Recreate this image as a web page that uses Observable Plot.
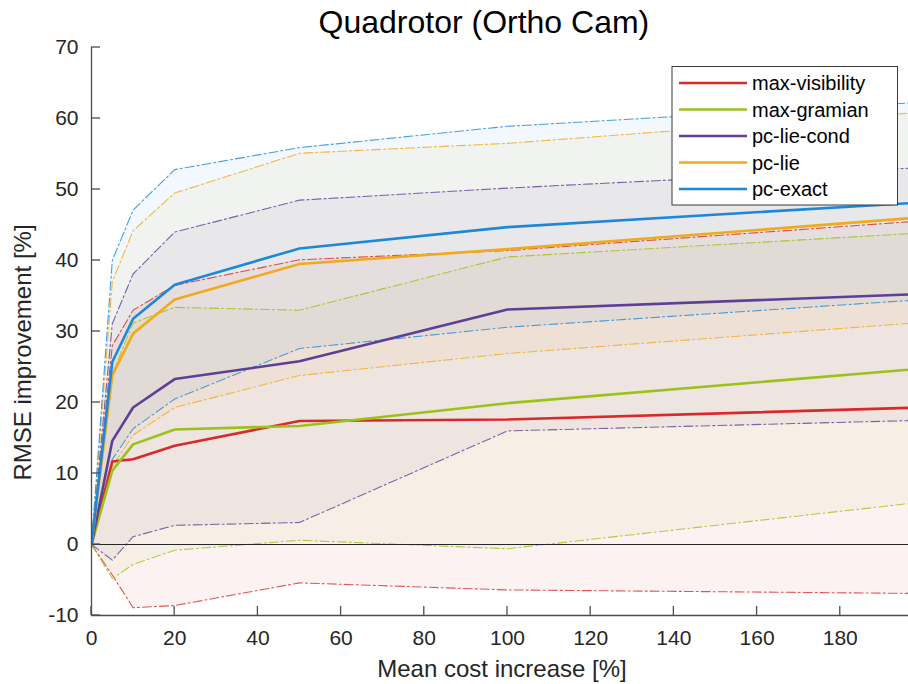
<!DOCTYPE html>
<html><head><meta charset="utf-8">
<script src="https://cdn.jsdelivr.net/npm/d3@7"></script>
<script src="https://cdn.jsdelivr.net/npm/@observablehq/plot@0.6"></script>
<style>body{margin:0;background:#fff}</style>
</head><body><div id="chart"></div>
<script>
const titleText = "Quadrotor (Ortho Cam)";
const xLabel = "Mean cost increase [%]";
const yLabel = "RMSE improvement [%]";
const costX = [0, 5, 10, 20, 50, 100, 200];
const seriesNames = ["max-visibility", "max-gramian", "pc-lie-cond", "pc-lie", "pc-exact"];
const seriesColors = ["#D92A2A", "#9BC21A", "#5E3F96", "#F0AA1C", "#1E88D8"];

const visMean = [0, 11.7, 12.0, 13.9, 17.4, 17.6, 19.3];
const visLo   = [0, -4.3, -8.9, -8.6, -5.4, -6.4, -6.9];
const visHi   = [0, 28.0, 33.0, 36.5, 40.1, 41.4, 45.6];

const gramMean = [0, 10.4, 14.1, 16.2, 16.7, 19.9, 24.8];
const gramLo   = [0, -4.8, -2.8, -0.8, 0.6, -0.6, 6.0];
const gramHi   = [0, 24.0, 31.2, 33.4, 33.0, 40.5, 43.9];

const condMean = [0, 14.6, 19.3, 23.3, 25.8, 33.1, 35.3];
const condLo   = [0, -2.2, 1.1, 2.7, 3.1, 16.0, 17.5];
const condHi   = [0, 31.1, 38.1, 44.0, 48.5, 50.2, 53.1];

const lieMean = [0, 23.8, 29.7, 34.5, 39.5, 41.6, 46.1];
const lieLo   = [0, 11.0, 15.4, 19.3, 23.8, 26.9, 31.3];
const lieHi   = [0, 37.0, 44.2, 49.5, 55.1, 56.5, 60.9];

const exactMean = [0, 25.7, 31.8, 36.6, 41.7, 44.7, 48.2];
const exactLo   = [0, 12.0, 16.3, 20.5, 27.6, 30.6, 34.5];
const exactHi   = [0, 40.0, 47.1, 52.8, 55.9, 58.9, 62.3];

const xTicks = [0, 20, 40, 60, 80, 100, 120, 140, 160, 180];
const yTicks = [-10, 0, 10, 20, 30, 40, 50, 60, 70];
const yTickLabels = ["-10", "0", "10", "20", "30", "40", "50", "60", "70"];

const seriesData = [
  [visMean, visLo, visHi],
  [gramMean, gramLo, gramHi],
  [condMean, condLo, condHi],
  [lieMean, lieLo, lieHi],
  [exactMean, exactLo, exactHi]
];
const rows = [];
seriesNames.forEach((name, s) => {
  const [m, lo, hi] = seriesData[s];
  costX.forEach((x, i) => rows.push({series: name, x, mean: m[i], lo: lo[i], hi: hi[i]}));
});

const font = "'Liberation Sans', Arial, Helvetica, sans-serif";
const dashes = "9,3,2,3";

const plot = Plot.plot({
  width: 908, height: 684,
  marginLeft: 91, marginRight: 0, marginTop: 47, marginBottom: 69,
  style: {fontFamily: font, background: "white", overflow: "visible"},
  x: {domain: [0, 196.4]},
  y: {domain: [-10, 70]},
  color: {domain: seriesNames, range: seriesColors},
  marks: [
    Plot.areaY(rows, {x: "x", y1: "lo", y2: "hi", z: "series", fill: "series", fillOpacity: 0.06, clip: true}),
    Plot.lineY(rows, {x: "x", y: "hi", z: "series", stroke: "series", strokeWidth: 1.1, strokeOpacity: 0.8, strokeDasharray: dashes, clip: true}),
    Plot.lineY(rows, {x: "x", y: "lo", z: "series", stroke: "series", strokeWidth: 1.1, strokeOpacity: 0.8, strokeDasharray: dashes, clip: true}),
    Plot.ruleY([0], {stroke: "#262626", strokeWidth: 1}),
    Plot.lineY(rows, {x: "x", y: "mean", z: "series", stroke: "series", strokeWidth: 2.6, clip: true}),
    Plot.ruleX([0], {stroke: "#4d4d4d", strokeWidth: 1.3}),
    Plot.ruleY([-10], {stroke: "#4d4d4d", strokeWidth: 1.3}),
    Plot.axisY({ticks: yTicks, tickSize: 0, tickPadding: 13, tickFormat: (d) => yTickLabels[yTicks.indexOf(d)], fontSize: 21, color: "#262626", label: null}),
    Plot.axisX({ticks: xTicks, tickSize: 0, tickPadding: 15, tickFormat: (d) => String(d), fontSize: 21, color: "#262626", label: null}),
    Plot.text([titleText], {frameAnchor: "top-left", textAnchor: "start", lineAnchor: "bottom", dx: 227, dy: -15, fontSize: 32, fill: "#000"}),
    Plot.text([xLabel], {frameAnchor: "bottom", textAnchor: "middle", lineAnchor: "bottom", dx: 2, dy: 61, fontSize: 24, fill: "#262626"}),
    Plot.text([yLabel], {frameAnchor: "left", textAnchor: "start", lineAnchor: "bottom", rotate: -90, dx: -61, dy: 149, fontSize: 24, fill: "#262626"})
  ]
});

document.getElementById("chart").appendChild(plot);

// inward tick marks (MATLAB style) placed through the plot's own scales
const svg = d3.select(plot);
const xs = plot.scale("x"), ys = plot.scale("y");
const gT = svg.append("g").attr("stroke", "#4d4d4d").attr("stroke-width", 1.3);
yTicks.forEach(t => {
  const y = ys.apply(t);
  gT.append("line").attr("x1", xs.apply(0)).attr("x2", xs.apply(0) + 9).attr("y1", y).attr("y2", y);
});
xTicks.forEach(t => {
  const x = xs.apply(t);
  gT.append("line").attr("x1", x).attr("x2", x).attr("y1", ys.apply(-10)).attr("y2", ys.apply(-10) - 9);
});

// legend
const lg = svg.append("g").attr("font-family", font).attr("font-size", 20).attr("text-anchor", "start");
lg.append("rect").attr("x", 672).attr("y", 66.5).attr("width", 225.5).attr("height", 138.5)
  .attr("fill", "white").attr("stroke", "#3a3a3a").attr("stroke-width", 1);
seriesNames.forEach((name, i) => {
  const cy = 83 + i * 26.5;
  lg.append("line").attr("x1", 679).attr("x2", 747).attr("y1", cy).attr("y2", cy)
    .attr("stroke", seriesColors[i]).attr("stroke-width", 2.6);
  lg.append("text").attr("x", 752).attr("y", cy).attr("dy", "0.35em").attr("fill", "#000").text(name);
});
</script>
</body></html>
